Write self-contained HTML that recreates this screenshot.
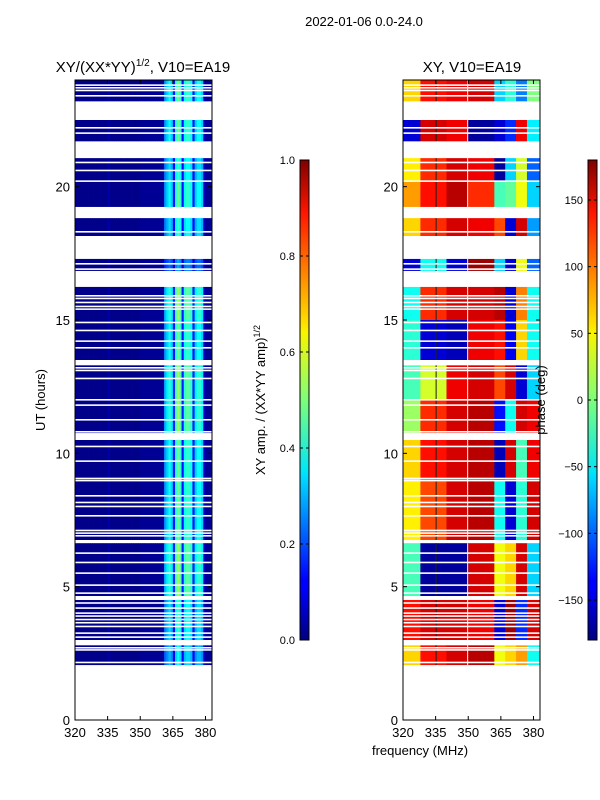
<!DOCTYPE html>
<html><head><meta charset="utf-8"><style>
body{margin:0;background:#fff;}
svg{display:block;font-family:"Liberation Sans","DejaVu Sans",sans-serif;}
</style></head><body>
<svg id="fig" width="600" height="800" xmlns="http://www.w3.org/2000/svg">
<defs>
<linearGradient id="jet" x1="0" y1="1" x2="0" y2="0">
<stop offset="0" stop-color="#00007f"/><stop offset="0.11" stop-color="#0000ff"/><stop offset="0.125" stop-color="#0000ff"/>
<stop offset="0.34" stop-color="#00dbff"/><stop offset="0.35" stop-color="#00e5f8"/><stop offset="0.5" stop-color="#7dff7a"/>
<stop offset="0.64" stop-color="#f8f500"/><stop offset="0.66" stop-color="#ffe000"/><stop offset="0.89" stop-color="#ff1600"/><stop offset="1" stop-color="#7f0000"/>
</linearGradient>
</defs>
<text x="364" y="26" font-size="13" text-anchor="middle">2022-01-06 0.0-24.0</text>
<g id="left"></g>
<g id="right"></g>
<g id="cb1"></g>
<g id="cb2"></g>
<text x="143" y="72" font-size="15" text-anchor="middle">XY/(XX*YY)<tspan font-size="10" dy="-6">1/2</tspan><tspan dy="6">, V10=EA19</tspan></text>
<text x="472" y="72" font-size="15" text-anchor="middle">XY, V10=EA19</text>
<text x="0" y="0" font-size="13" text-anchor="middle" transform="translate(45,400) rotate(-90)">UT (hours)</text>
<text x="0" y="0" font-size="13" text-anchor="middle" transform="translate(265,400) rotate(-90)">XY amp. / (XX*YY amp)<tspan font-size="9" dy="-5">1/2</tspan></text>
<text x="0" y="0" font-size="13" text-anchor="middle" transform="translate(545,400) rotate(-90)">phase (deg)</text>
<text x="420" y="755" font-size="13" text-anchor="middle">frequency (MHz)</text>
</svg>
<script>
// ---- data ----
const bandStart = [23.2, 21.7, 20.2, 19.24, 18.15, 16.84, 15.0, 13.5, 12.0, 10.76, 9.0, 6.75, 4.65, 3.0, 2.06];
const bandEnd   = [24.0, 22.5, 21.07, 20.2, 18.82, 17.29, 16.24, 15.0, 13.3, 12.0, 10.5, 9.0, 6.63, 4.5, 2.8];
const bandAmpScale = [1.0, 1.0, 0.9, 1.0, 0.9, 0.6, 1.1, 1.0, 1.1, 1.1, 1.0, 1.0, 1.1, 0.9, 0.8];
const phaseGroupEdges = [320, 328, 340, 350, 362, 367, 372, 377, 383];
const bandPhase = [
 [60,130,140,150,-60,-30,-90,0],
 [-150,150,140,-170,-150,-120,140,-50],
 [50,120,150,140,-170,-60,30,-100],
 [80,130,160,120,-20,-10,40,-60],
 [60,120,150,140,110,-150,150,-80],
 [-150,-40,-150,170,-60,-150,40,-100],
 [-40,120,150,150,160,-150,90,-40],
 [-30,-150,-160,140,130,-140,60,-40],
 [-20,30,140,150,110,150,-150,-60],
 [10,120,150,160,-130,-40,150,140],
 [60,130,150,160,-160,150,-20,140],
 [50,110,150,160,-40,-150,-30,150],
 [-20,-170,-170,150,40,60,150,-60],
 [130,150,150,140,-150,170,-120,150],
 [60,130,150,160,40,60,80,-40]
];
const ampFreqStart = 320;
const ampByChannel = [0.01,0.01,0.01,0.01,0.01,0.01,0.01,0.01,0.01,0.01,
 0.01,0.01,0.01,0.01,0.01,0.04,0.01,0.01,0.01,0.01,
 0.01,0.01,0.01,0.01,0.01,0.01,0.01,0.01,0.01,0.01,
 0.02,0.02,0.02,0.02,0.02,0.02,0.02,0.02,0.02,0.02,
 0.03,0.28,0.33,0.38,0.33,0.14,0.42,0.48,0.42,0.14,
 0.38,0.42,0.42,0.38,0.14,0.33,0.38,0.38,0.33,0.06,
 0.02,0.02,0.02];
const flaggedHours = [23.8,23.7,23.6,23.4,22.2,22.0,20.9,20.6,20.2,18.3,17.1,16.9,15.9,15.8,15.65,15.5,15.4,14.9,14.6,14.2,13.95,13.2,13.1,12.8,12.0,11.8,11.25,10.8,10.25,9.7,9.05,8.97,8.4,8.15,8.0,7.65,7.1,7.0,6.9,6.25,5.9,5.5,5.05,4.75,4.38,4.19,4.0,3.89,3.76,3.64,3.5,3.25,3.1,2.7,2.62,2.15];
const yTicks = [0,5,10,15,20];
const xTicks = [320,335,350,365,380];
const ampTicks = [0.0,0.2,0.4,0.6,0.8,1.0];
const phaseTicks = [-150,-100,-50,0,50,100,150];

// ---- helpers ----
const NS="http://www.w3.org/2000/svg";
function jet(v){ v=Math.max(0,Math.min(1,v));
 const c=x=>Math.round(255*Math.max(0,Math.min(1,x)));
 return `rgb(${c(1.5-Math.abs(4*v-3))},${c(1.5-Math.abs(4*v-2))},${c(1.5-Math.abs(4*v-1))})`;}
function mk(tag,attrs,parent){const e=document.createElementNS(NS,tag);for(const k in attrs)e.setAttribute(k,attrs[k]);parent.appendChild(e);return e;}
const Y0=80,Y1=720,H0=0,H1=24;
const yS=h=>Y1-(h-H0)/(H1-H0)*(Y1-Y0);
function xScale(x0,x1){return f=>x0+(f-320)/(383-320)*(x1-x0);}

function axes(g,x0,x1,xs){
 for(let i=0;i<flaggedHours.length;i++){
  const r=mk('rect',{x:x0,y:yS(flaggedHours[i])-1,width:x1-x0,height:1.6,fill:'#fff'},g);
  
  
 }
 mk('rect',{x:x0,y:Y0,width:x1-x0,height:Y1-Y0,fill:'none',stroke:'#000','stroke-width':1},g);
 yTicks.forEach(t=>{const y=yS(t);
  mk('line',{x1:x0,x2:x0+4,y1:y,y2:y,stroke:'#000'},g);mk('line',{x1:x1,x2:x1-4,y1:y,y2:y,stroke:'#000'},g);
  const tx=mk('text',{x:x0-5,y:y+5,'font-size':13,'text-anchor':'end'},g);tx.textContent=t;
  
  });
 xTicks.forEach(t=>{const x=xs(t);
  mk('line',{x1:x,x2:x,y1:Y1,y2:Y1-4,stroke:'#000'},g);mk('line',{x1:x,x2:x,y1:Y0,y2:Y0+4,stroke:'#000'},g);
  const tx=mk('text',{x:x,y:737,'font-size':13,'text-anchor':'middle'},g);tx.textContent=t;
  
  });
}

// amplitude panel
(function(){
 const g=document.getElementById('left');const x0=75,x1=212,xs=xScale(x0,x1);
 for(let b=0;b<bandStart.length;b++){
  for(let c=0;c<ampByChannel.length;c++){
   const f=ampFreqStart+c; if(f>=383)break;
   const v=ampByChannel[c]>0.1?ampByChannel[c]*bandAmpScale[b]:ampByChannel[c];
   const r=mk('rect',{x:xs(f),y:yS(bandEnd[b]),width:xs(f+1)-xs(f)+0.4,height:yS(bandStart[b])-yS(bandEnd[b]),fill:jet(v)},g);
   
   
  }
 }
 axes(g,x0,x1,xs);
})();

// phase panel
(function(){
 const g=document.getElementById('right');const x0=403,x1=540,xs=xScale(x0,x1);
 for(let b=0;b<bandStart.length;b++){
  for(let k=0;k<phaseGroupEdges.length-1;k++){
   const r=mk('rect',{x:xs(phaseGroupEdges[k]),y:yS(bandEnd[b]),width:xs(phaseGroupEdges[k+1])-xs(phaseGroupEdges[k])+0.4,height:yS(bandStart[b])-yS(bandEnd[b]),fill:jet((bandPhase[b][k]+180)/360)},g);
   
   
  }
  mk('rect',{x:xs(335),y:yS(bandEnd[b]),width:1,height:yS(bandStart[b])-yS(bandEnd[b]),fill:'#202020'},g);
  mk('rect',{x:xs(349.5),y:yS(bandEnd[b]),width:1,height:yS(bandStart[b])-yS(bandEnd[b]),fill:'#fff8e0'},g);
 }
 axes(g,x0,x1,xs);
})();

function colorbar(id,x,ticks,lo,hi,fmt){
 const g=document.getElementById(id);
 mk('rect',{x:x,y:160,width:9,height:480,fill:'url(#jet)',stroke:'#000','stroke-width':1},g);
 ticks.forEach(t=>{const y=640-(t-lo)/(hi-lo)*480;
  mk('line',{x1:x,x2:x+3,y1:y,y2:y,stroke:'#000'},g);mk('line',{x1:x+9,x2:x+6,y1:y,y2:y,stroke:'#000'},g);
  const tx=mk('text',{x:x-5,y:y+4,'font-size':11,'text-anchor':'end'},g);tx.textContent=fmt(t);
  
  });
}
colorbar('cb1',300,ampTicks,0,1,t=>t.toFixed(1));
colorbar('cb2',588,phaseTicks,-180,180,t=>t<0?'\u2212'+(-t):''+t);
</script>
</body></html>
